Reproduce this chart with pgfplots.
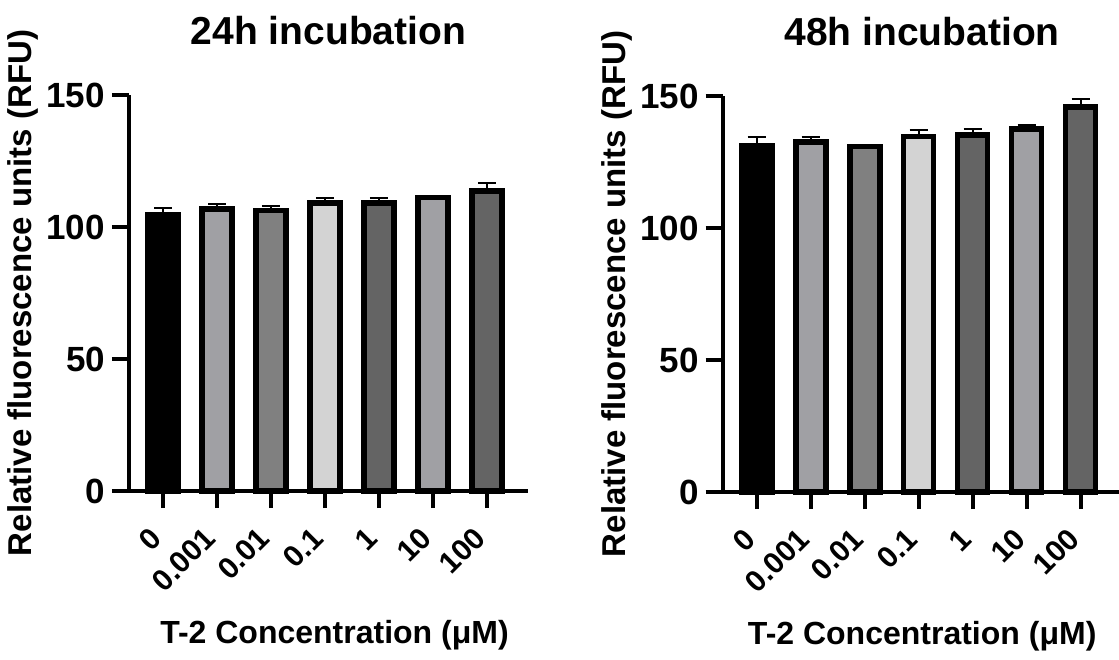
\documentclass[border=0pt]{standalone}
\usepackage{fontspec}
\setmainfont{Liberation Sans}
\usepackage{pgfplots}
\pgfplotsset{compat=1.18}

\definecolor{gA}{RGB}{160,160,164}
\definecolor{gB}{RGB}{128,128,128}
\definecolor{gC}{RGB}{211,211,211}
\definecolor{gD}{RGB}{100,100,100}

% one bar with its upper error bar
\newcommand{\rbar}[4]{\addplot[fill=#4] coordinates {(#1,#2) +- (0,#3)};}

\pgfplotsset{rfu/.style={
  width=199.5pt, height=198pt, scale only axis,
  xmin=-0.63, xmax=6.76, ymin=0, ymax=150,
  axis lines*=left,
  axis line style={line width=2pt, black},
  ytick={0,50,100,150}, yticklabels={0,50,100,150},
  xtick={0,...,6}, xticklabels={0,0.001,0.01,0.1,1,10,100},
  tick align=outside, major tick length=8.5pt,
  tick style={line width=2pt, black},
  yticklabel style={font=\fontsize{17.5}{20}\selectfont\bfseries},
  xticklabel style={font=\fontsize{15}{18}\selectfont\bfseries,
    yshift=-10pt, xshift=-1pt, rotate=45, anchor=east},
  ylabel={Relative fluorescence units (RFU)},
  xlabel={T-2 Concentration (μM)},
  every axis y label/.style={at={([xshift=-53pt]axis description cs:0,0.5)},
    rotate=90, anchor=center, font=\fontsize{16.5}{19}\selectfont\bfseries},
  every axis x label/.style={at={([yshift=-76pt]axis description cs:0.5,0)},
    anchor=base, font=\fontsize{16}{19}\selectfont\bfseries},
  title style={font=\fontsize{19.5}{23}\selectfont\bfseries,
    at={([yshift=19.5pt]axis description cs:0.5,1)}, anchor=base},
  clip=false,
  ybar, bar width=15pt, bar shift=0pt,
  every axis plot/.append style={draw=black, line width=2.8pt},
  error bars/y dir=plus, error bars/y explicit,
  error bars/error bar style={line width=1pt, black},
  error bars/error mark options={line width=1pt, black, mark size=4.5pt, rotate=90},
}}

\begin{document}
\begin{tikzpicture}
\useasboundingbox (-64.5pt,-84pt) rectangle (495pt,245.5pt);

\begin{axis}[rfu, at={(0pt,0pt)}, anchor=south west, title={24h incubation},
  xlabel style={xshift=3pt}]
\rbar{0}{104.7}{2.6}{black}
\rbar{1}{106.8}{2.0}{gA}
\rbar{2}{106.3}{1.7}{gB}
\rbar{3}{109.0}{1.9}{gC}
\rbar{4}{109.0}{1.9}{gD}
\rbar{5}{111.2}{0.5}{gA}
\rbar{6}{113.6}{3.1}{gD}
\end{axis}

\begin{axis}[rfu, at={(296.85pt,-0.5pt)}, anchor=south west, title={48h incubation}]
\rbar{0}{131.3}{3.0}{black}
\rbar{1}{132.5}{1.9}{gA}
\rbar{2}{130.9}{0.4}{gB}
\rbar{3}{134.7}{2.4}{gC}
\rbar{4}{135.3}{2.2}{gD}
\rbar{5}{137.6}{1.6}{gA}
\rbar{6}{145.8}{2.9}{gD}
\end{axis}
\end{tikzpicture}
\end{document}
